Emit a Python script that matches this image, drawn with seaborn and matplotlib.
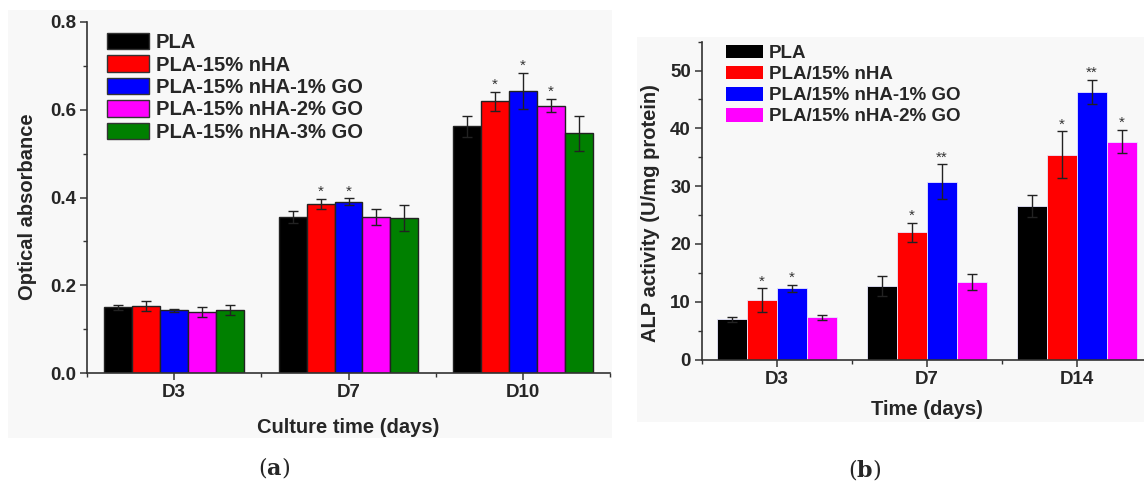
import numpy as np
import pandas as pd
import matplotlib
matplotlib.use("Agg")
import matplotlib.pyplot as plt
from matplotlib.patches import Rectangle, Patch
from matplotlib.ticker import MultipleLocator, FixedLocator, FormatStrFormatter
import seaborn as sns

# ---------------- data: panel (a) cell proliferation ----------------
days_a = ["D3", "D7", "D10"]
groups_a = ["PLA", "PLA-15% nHA", "PLA-15% nHA-1% GO",
            "PLA-15% nHA-2% GO", "PLA-15% nHA-3% GO"]
od_pla = [0.150, 0.356, 0.562]
od_nha = [0.153, 0.385, 0.619]
od_go1 = [0.143, 0.390, 0.643]
od_go2 = [0.139, 0.356, 0.609]
od_go3 = [0.144, 0.353, 0.546]
od_err_pla = [0.006, 0.014, 0.023]
od_err_nha = [0.012, 0.012, 0.021]
od_err_go1 = [0.004, 0.008, 0.041]
od_err_go2 = [0.011, 0.018, 0.015]
od_err_go3 = [0.011, 0.030, 0.039]
sig_a_pla = ["", "", ""]
sig_a_nha = ["", "*", "*"]
sig_a_go1 = ["", "*", "*"]
sig_a_go2 = ["", "", "*"]
sig_a_go3 = ["", "", ""]

# ---------------- data: panel (b) ALP activity ----------------
days_b = ["D3", "D7", "D14"]
groups_b = ["PLA", "PLA/15% nHA", "PLA/15% nHA-1% GO", "PLA/15% nHA-2% GO"]
alp_pla = [6.95, 12.77, 26.56]
alp_nha = [10.24, 22.0, 35.43]
alp_go1 = [12.3, 30.76, 46.28]
alp_go2 = [7.3, 13.4, 37.68]
alp_err_pla = [0.45, 1.7, 1.9]
alp_err_nha = [2.05, 1.7, 4.05]
alp_err_go1 = [0.6, 3.0, 2.1]
alp_err_go2 = [0.4, 1.4, 2.0]
sig_b_pla = ["", "", ""]
sig_b_nha = ["*", "*", "*"]
sig_b_go1 = ["*", "**", "**"]
sig_b_go2 = ["", "", "*"]

colors_a = ["#000000", "#ff0000", "#0000ff", "#ff00ff", "#008000"]
colors_b = ["#000000", "#ff0000", "#0000ff", "#ff00ff"]


def long_table(days, groups, values, errors, marks):
    rows = []
    for g, vals, errs, sig in zip(groups, values, errors, marks):
        for d, v, e, s in zip(days, vals, errs, sig):
            rows.append({"day": d, "group": g, "value": v, "err": e, "sig": s})
    return pd.DataFrame(rows)


df_a = long_table(days_a, groups_a,
                  [od_pla, od_nha, od_go1, od_go2, od_go3],
                  [od_err_pla, od_err_nha, od_err_go1, od_err_go2, od_err_go3],
                  [sig_a_pla, sig_a_nha, sig_a_go1, sig_a_go2, sig_a_go3])
df_b = long_table(days_b, groups_b,
                  [alp_pla, alp_nha, alp_go1, alp_go2],
                  [alp_err_pla, alp_err_nha, alp_err_go1, alp_err_go2],
                  [sig_b_pla, sig_b_nha, sig_b_go1, sig_b_go2])

sns.set_style("ticks")
plt.rcParams["font.family"] = ["Liberation Sans", "DejaVu Sans"]
plt.rcParams["font.weight"] = "bold"
plt.rcParams["axes.labelweight"] = "bold"
plt.rcParams["mathtext.fontset"] = "dejavuserif"

W, H = 1144, 482
fig = plt.figure(figsize=(W / 100, H / 100), dpi=100)
fig.patch.set_facecolor("white")


def px_box(x0, y0, x1, y1):
    """Figure-fraction rectangle from pixel corners (top-left origin)."""
    return [x0 / W, 1 - y1 / H, (x1 - x0) / W, (y1 - y0) / H]


# light panel backgrounds, kept beneath the axes
for x0, y0, x1, y1 in [(8, 10, 612, 438), (637, 37, 1144, 422)]:
    b = px_box(x0, y0, x1, y1)
    fig.patches.append(Rectangle((b[0], b[1]), b[2], b[3], transform=fig.transFigure,
                                 facecolor="#f8f8f8", edgecolor="none", zorder=-5))

ax_a = fig.add_axes(px_box(87, 22, 610, 373))
ax_b = fig.add_axes(px_box(702, 41.6, 1151.5, 359.5))

axis_col = "#333333"


def draw_panel(ax, df, days, groups, colors, edge, lw, ylim, major, minor,
               ylabel, xlabel, star_size):
    sns.barplot(data=df, x="day", y="value", hue="group", order=days,
                hue_order=groups, palette=colors, width=0.8, gap=0,
                errorbar=None, edgecolor=edge, linewidth=lw, legend=False,
                saturation=1, ax=ax, zorder=2)
    for cont, g in zip(ax.containers, groups):
        sub = df[df["group"] == g].set_index("day").loc[days]
        xs = [p.get_x() + p.get_width() / 2 for p in cont.patches]
        ax.errorbar(xs, sub["value"], yerr=sub["err"], fmt="none",
                    ecolor="#222222", elinewidth=1.0, capsize=3.5,
                    capthick=1.0, zorder=3)
        for x, v, e, s in zip(xs, sub["value"], sub["err"], sub["sig"]):
            if s:
                ax.annotate(s, (x, v + e), xytext=(0, 0),
                            textcoords="offset points", ha="center",
                            va="bottom", fontsize=star_size,
                            fontweight="normal", color="#333333", zorder=4)
    ax.set_facecolor("none")
    ax.set_xlim(-0.5, len(days) - 0.5)
    ax.set_ylim(*ylim)
    ax.yaxis.set_major_locator(MultipleLocator(major))
    ax.yaxis.set_minor_locator(MultipleLocator(minor))
    ax.xaxis.set_minor_locator(FixedLocator(np.arange(-0.5, len(days), 1.0)))
    for side in ["top", "right"]:
        ax.spines[side].set_visible(False)
    for side in ["left", "bottom"]:
        ax.spines[side].set_color(axis_col)
        ax.spines[side].set_linewidth(1.2)
    ax.tick_params(which="major", direction="out", length=5, width=1.1,
                   color=axis_col, labelsize=13.5, pad=3)
    ax.tick_params(which="minor", direction="out", length=3, width=1.0,
                   color=axis_col)
    ax.set_xlabel(xlabel, fontsize=14.5, fontweight="bold")
    ax.set_ylabel(ylabel, fontsize=14.5, fontweight="bold")


draw_panel(ax_a, df_a, days_a, groups_a, colors_a, "#222222", 1.0,
           (0, 0.8), 0.2, 0.1, "Optical absorbance", "Culture time (days)", 11)
ax_a.yaxis.set_major_formatter(FormatStrFormatter("%.1f"))
ax_a.xaxis.labelpad = 12
ax_a.yaxis.labelpad = 9
ax_a.yaxis.label.set_y((373 - 207) / 351)

draw_panel(ax_b, df_b, days_b, groups_b, colors_b, "#e8e8ff", 0.6,
           (0, 55), 10, 5, "ALP activity (U/mg protein)", "Time (days)", 11)
ax_b.xaxis.labelpad = 9
ax_b.yaxis.labelpad = 7
ax_b.yaxis.label.set_y((359.5 - 213) / 318)

# legends
handles_a = [Patch(facecolor=c, edgecolor="#333333", linewidth=1.0, label=g)
             for c, g in zip(colors_a, groups_a)]
ax_a.legend(handles=handles_a, loc="upper left",
            bbox_to_anchor=((107 - 87) / 523, 1 - 11 / 351), frameon=False,
            handlelength=2.09, handleheight=0.88,
            handletextpad=0.33, labelspacing=0.16, borderpad=0, borderaxespad=0,
            prop={"weight": "bold", "size": 14.5})

handles_b = [Patch(facecolor=c, edgecolor="none", label=g)
             for c, g in zip(colors_b, groups_b)]
ax_b.legend(handles=handles_b, loc="upper left",
            bbox_to_anchor=((726 - 702) / 449.5, 1 - 3 / 318), frameon=False,
            handlelength=1.97, handleheight=0.76,
            handletextpad=0.33, labelspacing=0.19, borderpad=0, borderaxespad=0,
            prop={"weight": "bold", "size": 13.5})

# panel captions
fig.text(274 / W, 1 - 468 / H, r"($\mathbf{a}$)", ha="center", va="center",
         fontsize=16, family="DejaVu Serif", fontweight="normal")
fig.text(865 / W, 1 - 470 / H, r"($\mathbf{b}$)", ha="center", va="center",
         fontsize=16, family="DejaVu Serif", fontweight="normal")

fig.savefig("out.png", dpi=100, facecolor="white")
